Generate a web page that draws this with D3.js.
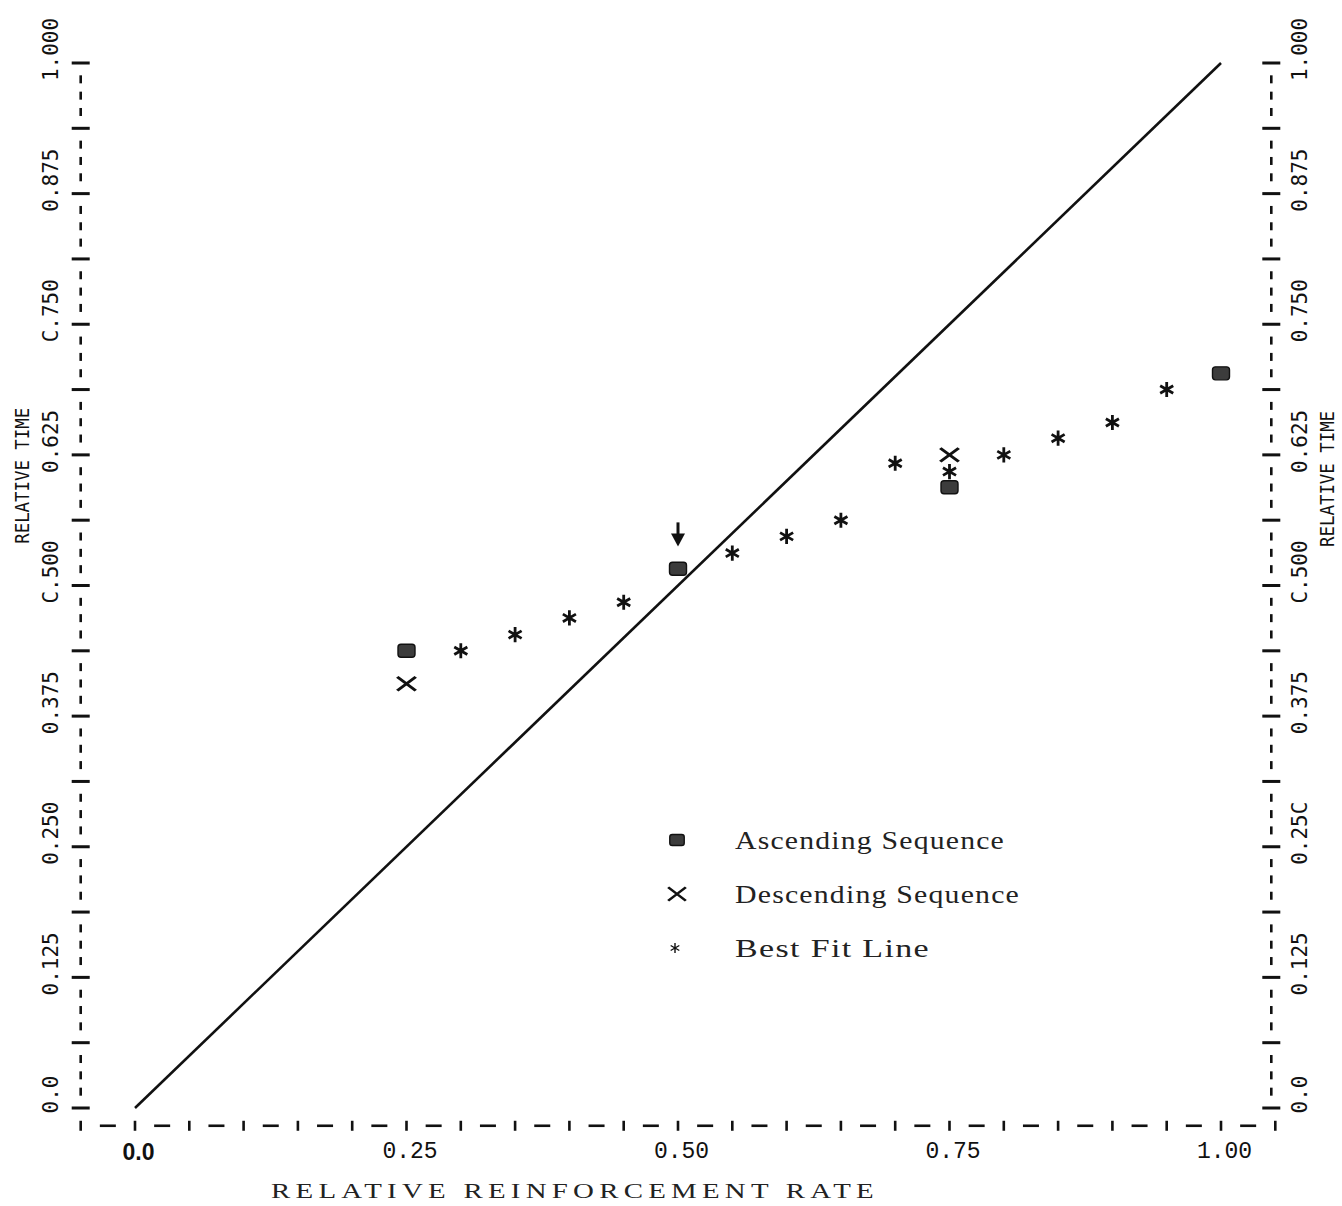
<!DOCTYPE html>
<html>
<head>
<meta charset="utf-8">
<script src="https://cdn.jsdelivr.net/npm/d3@7"></script>
<style>
  html, body { margin: 0; padding: 0; background: #fff; }
  svg { display: block; }
</style>
</head>
<body>
<script>
// Relative time spent vs. relative reinforcement rate
const xTickValues = [0, 0.25, 0.5, 0.75, 1.0];
const xTickLabels = ["0.0", "0.25", "0.50", "0.75", "1.00"];
const yTickValues = [0, 0.125, 0.25, 0.375, 0.5, 0.625, 0.75, 0.875, 1.0];
const leftTickLabels = ["0.0", "0.125", "0.250", "0.375", "C.500", "0.625", "C.750", "0.875", "1.000"];
const rightTickLabels = ["0.0", "0.125", "0.25C", "0.375", "C.500", "0.625", "0.750", "0.875", "1.000"];

// Ascending sequence (filled squares)
const ascendingX = [0.25, 0.50, 0.75, 1.00];
const ascendingY = [0.4375, 0.516, 0.594, 0.703];
// Descending sequence (crosses)
const descendingX = [0.25, 0.75];
const descendingY = [0.406, 0.625];
// Descending point printed as a down arrow
const arrowX = [0.50];
const arrowY = [0.547];
// Best fit line (asterisks)
const fitX = [0.30, 0.35, 0.40, 0.45, 0.55, 0.60, 0.65, 0.70, 0.75, 0.80, 0.85, 0.90, 0.95];
const fitY = [0.4375, 0.453, 0.469, 0.484, 0.531, 0.547, 0.5625, 0.617, 0.609, 0.625, 0.641, 0.656, 0.6875];

// Equality line
const equalityX = [0, 1];
const equalityY = [0, 1];

const legendLabels = ["Ascending Sequence", "Descending Sequence", "Best Fit Line"];

const W = 1342, H = 1206;
const svg = d3.select("body").append("svg").attr("width", W).attr("height", H);

const x = d3.scaleLinear().domain([0, 1]).range([135, 1221]);
const y = d3.scaleLinear().domain([0, 1]).range([1108, 63]);

const ink = "#111";
const serif = "Liberation Serif, DejaVu Serif, serif";
const mono = "DejaVu Sans Mono, monospace";

// ---- printer-style axes ----
const leftAxisX = x(-0.05);
const rightAxisX = x(1.05) - 4;
const bottomAxisY = y(-0.017);

// vertical axes: one character per 1/64, "|" (shown as a bar across) every 4th, "-" between
const rows = d3.range(0, 65).map(i => i / 64);
function drawVerticalAxis(ax) {
  const g = svg.append("g");
  g.selectAll("rect").data(rows).join("rect")
    .attr("x", (d, i) => i % 4 === 0 ? ax - 9 : ax - 1.3)
    .attr("y", (d, i) => i % 4 === 0 ? y(d) - 1.5 : y(d) - 4)
    .attr("width", (d, i) => i % 4 === 0 ? 18 : 2.6)
    .attr("height", (d, i) => i % 4 === 0 ? 3 : 8)
    .attr("fill", ink);
}
drawVerticalAxis(leftAxisX);
drawVerticalAxis(rightAxisX);

// horizontal axis: one character per 0.025 from -0.05 to 1.05
const cols = d3.range(-2, 43).map(i => i / 40);
svg.append("g").selectAll("rect").data(cols).join("rect")
  .attr("x", (d, i) => i % 2 === 0 ? x(d) - 1.3 : x(d) - 8)
  .attr("y", (d, i) => i % 2 === 0 ? bottomAxisY - 5 : bottomAxisY - 1.3)
  .attr("width", (d, i) => i % 2 === 0 ? 2.6 : 16)
  .attr("height", (d, i) => i % 2 === 0 ? 10 : 2.6)
  .attr("fill", ink);

// ---- tick labels via d3 axes ----
function styleVerticalLabels(g, cx) {
  g.select(".domain").remove();
  g.selectAll(".tick text")
    .attr("x", 0).attr("dy", null)
    .attr("transform", `translate(${cx},-14) rotate(-90)`)
    .attr("text-anchor", "middle")
    .attr("dominant-baseline", "central")
    .attr("font-family", mono)
    .attr("font-size", 21).attr("fill", ink);
}
const gl = svg.append("g").call(
  d3.axisLeft(y).tickValues(yTickValues).tickFormat((d, i) => leftTickLabels[i]).tickSize(0));
styleVerticalLabels(gl, 51);
const gr = svg.append("g").call(
  d3.axisRight(y).tickValues(yTickValues).tickFormat((d, i) => rightTickLabels[i]).tickSize(0));
styleVerticalLabels(gr, 1300);

const gb = svg.append("g").attr("transform", "translate(3,1152)").call(
  d3.axisBottom(x).tickValues(xTickValues).tickFormat((d, i) => xTickLabels[i]).tickSize(0));
gb.select(".domain").remove();
gb.selectAll(".tick text")
  .attr("y", 0).attr("dy", null)
  .attr("dominant-baseline", "central")
  .attr("font-family", (d, i) => i === 0 ? "Liberation Sans, sans-serif" : "Liberation Mono, monospace")
  .attr("font-weight", (d, i) => i === 0 ? "bold" : "normal")
  .attr("font-size", 23).attr("fill", ink);

// axis titles
[[22, 0.605], [1327, 0.602]].forEach(([tx, ty]) => {
  svg.append("text")
    .attr("transform", `translate(${tx},${y(ty)}) rotate(-90)`)
    .attr("text-anchor", "middle").attr("dominant-baseline", "central")
    .attr("font-family", mono).attr("font-size", 20)
    .attr("textLength", 136).attr("lengthAdjust", "spacingAndGlyphs")
    .attr("fill", ink).text("RELATIVE TIME");
});
svg.append("text")
  .attr("x", 575).attr("y", 1190)
  .attr("text-anchor", "middle").attr("dominant-baseline", "central")
  .attr("font-family", serif).attr("font-size", 22)
  .attr("letter-spacing", 4)
  .attr("textLength", 608).attr("lengthAdjust", "spacingAndGlyphs")
  .attr("fill", "#222").text("RELATIVE REINFORCEMENT RATE");

// ---- equality line ----
svg.append("path")
  .datum(d3.zip(equalityX, equalityY))
  .attr("d", d3.line().x(d => x(d[0])).y(d => y(d[1])))
  .attr("fill", "none").attr("stroke", ink).attr("stroke-width", 2.6);

// ---- marker glyphs ----
function squareMark(sel, cx, cy, s) {
  sel.append("rect")
    .attr("x", cx - 8.5 * s).attr("y", cy - 6.5 * s)
    .attr("width", 17 * s).attr("height", 13 * s).attr("rx", 3 * s)
    .attr("fill", "#3c3c3c").attr("stroke", ink).attr("stroke-width", 1.4);
}
const crossPath = d3.symbol().type(d3.symbolTimes).size(170);
const starPath = d3.symbol().type(d3.symbolAsterisk).size(160);

const marks = svg.append("g");

// best fit asterisks
marks.selectAll("path.fit").data(d3.zip(fitX, fitY)).join("path")
  .attr("class", "fit")
  .attr("transform", d => `translate(${x(d[0])},${y(d[1])})`)
  .attr("d", starPath).attr("fill", "none")
  .attr("stroke", ink).attr("stroke-width", 2.8);

// ascending squares
d3.zip(ascendingX, ascendingY).forEach(d => squareMark(marks, x(d[0]), y(d[1]), 1));

// descending crosses
marks.selectAll("path.desc").data(d3.zip(descendingX, descendingY)).join("path")
  .attr("class", "desc")
  .attr("transform", d => `translate(${x(d[0])},${y(d[1])}) scale(1.15,0.85)`)
  .attr("d", crossPath).attr("fill", "none")
  .attr("stroke", ink).attr("stroke-width", 3);

// down arrow
const arrowG = marks.selectAll("g.arrow").data(d3.zip(arrowX, arrowY)).join("g")
  .attr("class", "arrow")
  .attr("transform", d => `translate(${x(d[0])},${y(d[1])})`);
arrowG.append("line").attr("x1", 0).attr("x2", 0).attr("y1", -14).attr("y2", 2)
  .attr("stroke", ink).attr("stroke-width", 3);
arrowG.append("path").attr("d", "M-7,-3 L7,-3 L0,10 Z").attr("fill", ink);

// ---- legend ----
const legendRows = [840, 894, 948];
const legendLengths = [270, 285, 195];
const lg = svg.append("g");
squareMark(lg, 677, legendRows[0], 0.85);
lg.append("path")
  .attr("transform", `translate(677,${legendRows[1]}) scale(1.1,0.85)`)
  .attr("d", crossPath).attr("fill", "none").attr("stroke", ink).attr("stroke-width", 2.6);
lg.append("path")
  .attr("transform", `translate(675,${legendRows[2]})`)
  .attr("d", d3.symbol().type(d3.symbolAsterisk).size(70)).attr("fill", "none")
  .attr("stroke", ink).attr("stroke-width", 1.4);
lg.selectAll("text").data(legendLabels).join("text")
  .attr("x", 735).attr("y", (d, i) => legendRows[i])
  .attr("dominant-baseline", "central")
  .attr("font-family", serif).attr("font-size", 25)
  .attr("letter-spacing", 1)
  .attr("textLength", (d, i) => legendLengths[i]).attr("lengthAdjust", "spacingAndGlyphs")
  .attr("fill", "#222").text(d => d);
</script>
</body>
</html>
